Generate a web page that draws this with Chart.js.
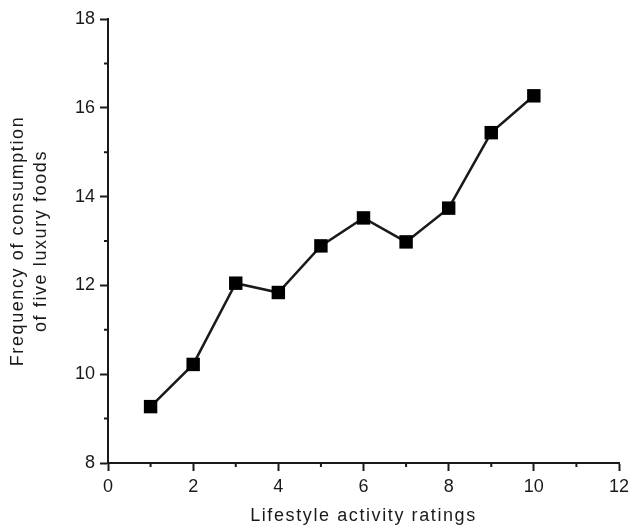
<!DOCTYPE html>
<html>
<head>
<meta charset="utf-8">
<script src="https://cdn.jsdelivr.net/npm/chart.js@4"></script>
<style>
  body { margin: 0; background: #fff; }
  #wrap { width: 631px; height: 527px; position: relative; }
</style>
</head>
<body>
<div id="wrap"><canvas id="chart"></canvas></div>
<script>
// data
var ratings = [1, 2, 3, 4, 5, 6, 7, 8, 9, 10];
var freq = [9.27, 10.22, 12.05, 11.84, 12.89, 13.52, 12.98, 13.74, 15.44, 16.27];
var xMinor = [1, 3, 5, 7, 9, 11];
var yMinor = [9, 11, 13, 15, 17];
var xTitle = 'Lifestyle activity ratings';
var yTitle = ['Frequency of consumption', 'of five luxury foods'];

var ink = '#1a1a1a';
var points = ratings.map(function (r, i) { return { x: r, y: freq[i] }; });

// short ticks at the odd values (chart.js has no minor ticks)
var minorTicks = {
	id: 'minorTicks',
	afterDraw: function (chart) {
		var ctx = chart.ctx;
		var xs = chart.scales.x, ys = chart.scales.y;
		ctx.save();
		ctx.strokeStyle = ink;
		ctx.lineWidth = 2;
		ctx.beginPath();
		xMinor.forEach(function (v) {
			var px = xs.getPixelForValue(v);
			ctx.moveTo(px, ys.bottom);
			ctx.lineTo(px, ys.bottom + 4);
		});
		yMinor.forEach(function (v) {
			var py = ys.getPixelForValue(v);
			ctx.moveTo(xs.left, py);
			ctx.lineTo(xs.left - 4, py);
		});
		ctx.stroke();
		ctx.restore();
	}
};

// the axis titles in the picture are letter-spaced
var spacedTitles = {
	id: 'spacedTitles',
	afterUpdate: function (chart) {
		Object.values(chart.scales).forEach(function (s) {
			if (s._spaced) return;
			var orig = s.drawTitle.bind(s);
			s.drawTitle = function () {
				s.ctx.save();
				s.ctx.letterSpacing = '1.6px';
				orig();
				s.ctx.restore();
			};
			s._spaced = true;
		});
	}
};

new Chart(document.getElementById('chart'), {
	type: 'line',
	data: {
		datasets: [{
			data: points,
			borderColor: ink,
			borderWidth: 2.5,
			pointStyle: 'rect',
			pointRadius: 9.5,
			pointBorderWidth: 0,
			pointBackgroundColor: '#000',
			tension: 0
		}]
	},
	options: {
		responsive: true,
		maintainAspectRatio: false,
		animation: false,
		layout: { padding: { top: 19, right: 12, left: 0, bottom: 0 } },
		plugins: { legend: { display: false }, tooltip: { enabled: false } },
		scales: {
			x: {
				type: 'linear',
				min: 0, max: 12,
				afterFit: function (s) { s.height = 64; s.paddingLeft = 0; s.paddingRight = 0; },
				border: { color: ink, width: 2 },
				grid: { drawOnChartArea: false, tickLength: 8, tickColor: ink, tickWidth: 2 },
				ticks: { stepSize: 2, padding: 5, color: ink, font: { family: 'Liberation Sans, Arial', size: 18 } },
				title: {
					display: true, text: xTitle, color: ink,
					padding: { top: 0, bottom: 0 },
					font: { family: 'Liberation Sans, Arial', size: 18, lineHeight: 1.2 }
				}
			},
			y: {
				min: 8, max: 18,
				afterFit: function (s) { s.width = 108; s.paddingTop = 0; s.paddingBottom = 0; },
				border: { color: ink, width: 2 },
				grid: { drawOnChartArea: false, tickLength: 8, tickColor: ink, tickWidth: 2 },
				ticks: { stepSize: 2, padding: 5, color: ink, font: { family: 'Liberation Sans, Arial', size: 18 } },
				title: {
					display: true, text: yTitle, color: ink,
					padding: { top: 7, bottom: 0 },
					font: { family: 'Liberation Sans, Arial', size: 18, lineHeight: 1.25 }
				}
			}
		}
	},
	plugins: [minorTicks, spacedTitles]
});
</script>
</body>
</html>
